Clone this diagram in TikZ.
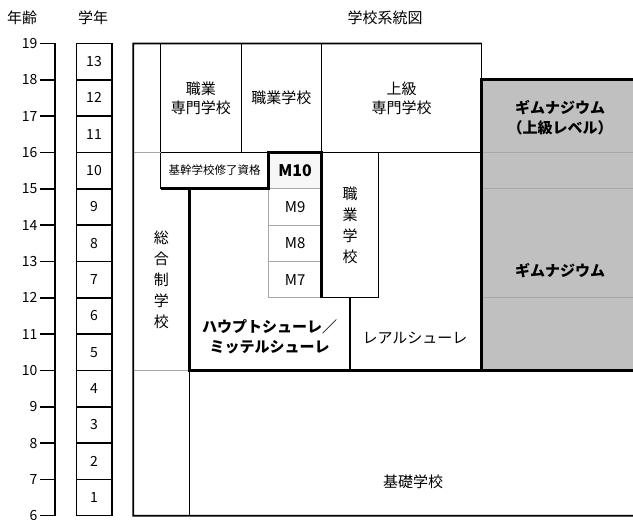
\documentclass[tikz,border=0pt]{standalone}
\usepackage{fontspec}
\setmainfont{Noto Sans CJK JP}
\definecolor{gymgray}{HTML}{C0C0C0}
\definecolor{linegray}{HTML}{A8A8A8}
\tikzset{
  thinln/.style={line width=1pt},
  frameln/.style={line width=1.8pt},
  thickln/.style={line width=2.6pt},
  gridln/.style={line width=1.6pt},
  sz/.style 2 args={minimum width=#1pt, minimum height=#2*36.33pt, inner sep=0pt, outer sep=0pt},
  lbl/.style={font=\fontsize{15}{19}\selectfont, align=center, inner sep=0pt},
  blbl/.style={font=\fontsize{15}{20}\selectfont\bfseries, align=center, inner sep=0pt},
  num/.style={font=\fontsize{14}{16}\selectfont, inner sep=0pt},
  vtext/.style={font=\fontsize{15}{21}\selectfont, align=center, inner sep=0pt},
  mlbl/.style={font=\fontsize{15}{18}\selectfont, inner sep=0pt},
}
\begin{document}
\begin{tikzpicture}[x=1pt,y=36.33pt]
\useasboundingbox (0,5.909) rectangle (633,20.195);

% ---------- headers ----------
\node[lbl] (hage) at (22,19.7) {年齢};
\node[lbl] (hgrade) at (93,19.7) {学年};
\node[lbl] (htitle) at (385,19.7) {学校系統図};

% ---------- age axis ----------
\coordinate (axtop) at (55,19);
\coordinate (axbot) at (55,6);
\draw[frameln] (axtop) -- (axbot);
\foreach \a in {6,...,19}{
  \coordinate (tk\a) at (40,\a);
  \draw[gridln] (tk\a) -- (axtop |- tk\a);
  \node[num, anchor=east] (age\a) at (37.5,\a) {\a};
}

% ---------- grade column ----------
\foreach \g in {1,...,13}{
  \node[draw, gridln, sz={35.4}{1}] (g\g) at (94,\g+5.5) {};
  \node[num] (gn\g) at (g\g.center) {\g};
}

% ---------- gymnasium fill ----------
\node[fill=gymgray, sz={158.3}{2}] (gymA) at (560.85,17) {};
\node[fill=gymgray, sz={158.3}{6}] (gymB) at (560.85,13) {};
\draw[linegray, line width=1.2pt] (gymA.south west) -- (gymA.south east);
\draw[linegray, line width=1pt] (481.7,15) coordinate (gl15a) -- (640,15) coordinate (gl15b);
\draw[linegray, line width=1pt] (481.7,12) coordinate (gl12a) -- (640,12) coordinate (gl12b);

% ---------- base school ----------
\node[sz={450.7}{4}] (base) at (414.65,8) {};
\draw[thinln] (base.north west) -- (base.south west);

% ---------- upper row ----------
\node[draw, thinln, sz={80.3}{3}] (vpro) at (200.85,17.5) {};
\node[draw, thinln, sz={80.7}{3}] (voc) at (281.35,17.5) {};
\node[draw, thinln, sz={160}{3}] (hvoc) at (401.7,17.5) {};

% ---------- middle ----------
\node[draw, thinln, sz={108}{1}] (kikan) at (214.7,15.5) {};
\node[draw, thinln, sz={56.6}{4}] (vocv) at (350,14) {};
\node[draw=linegray, line width=1pt, fill=white, sz={53}{1}] (m9) at (295.2,14.5) {};
\node[draw=linegray, line width=1pt, fill=white, sz={53}{1}] (m8) at (295.2,13.5) {};
\node[draw=linegray, line width=1pt, fill=white, sz={53}{1}] (m7) at (295.2,12.5) {};
\node[draw=linegray, line width=1pt, fill=white!97!black, sz={53}{1}] (m10) at (295.2,15.5) {};

% gray divider lines in left column
\draw[linegray, line width=1.2pt] (133.3,16) coordinate (lc16) -- (vpro.south west);
\draw[linegray, line width=1.2pt] (133.3,10) coordinate (lc10) -- (base.north west);

% ---------- frame ----------
\coordinate (frTL) at (133.3,19);
\coordinate (frBL) at (133.3,6);
\coordinate (frBR) at (640,6);
\draw[frameln] (frBR) -- (frBL) -- (frTL) -- (hvoc.north east);

% ---------- thick outlines ----------
\draw[thickln] (kikan.south west) -- (m10.south west) -- (m10.north west) -- (m10.north east) -- (m7.south east);
\draw[thickln] (m10.south west) -- (189.3,15) coordinate (hs1) -- (189.3,10) coordinate (hs2) -- (350,10) coordinate (hs3) -- (vocv.south);
\draw[thickln] (640,18) coordinate (gy1) -- (gymA.north west) -- (gymB.south west) -- (hs3);
\draw[thickln] (gymB.south west) -- (640,10) coordinate (gy2);

% ---------- texts ----------
\node[lbl] (tvpro) at (vpro.center) {職業\\専門学校};
\node[lbl] (tvoc) at (voc.center) {職業学校};
\node[lbl] (thvoc) at (hvoc.center) {上級\\専門学校};
\node[font=\fontsize{11.5}{13}\selectfont, inner sep=0pt] (tkikan) at (kikan.center) {基幹学校修了資格};
\node[font=\fontsize{16}{18}\selectfont\bfseries, inner sep=0pt] (tm10) at (m10.center) {M10};
\node[mlbl] (tm9) at (m9.center) {M9};
\node[mlbl] (tm8) at (m8.center) {M8};
\node[mlbl] (tm7) at (m7.center) {M7};
\node[vtext] (tvocv) at (vocv.center) {職\\業\\学\\校};
\node[vtext] (tgesamt) at (161.3,12.5) {総\\合\\制\\学\\校};
\node[blbl] (thaupt) at (269.5,10.92) {ハウプトシューレ／\\ミッテルシューレ};
\node[lbl] (treal) at (415,10.89) {レアルシューレ};
\node[blbl] (tgymA) at (560,16.95) {ギムナジウム\\（上級レベル）};
\node[blbl] (tgymB) at (560,12.76) {ギムナジウム};
\node[lbl] (tbase) at (413,6.93) {基礎学校};
\end{tikzpicture}
\end{document}
